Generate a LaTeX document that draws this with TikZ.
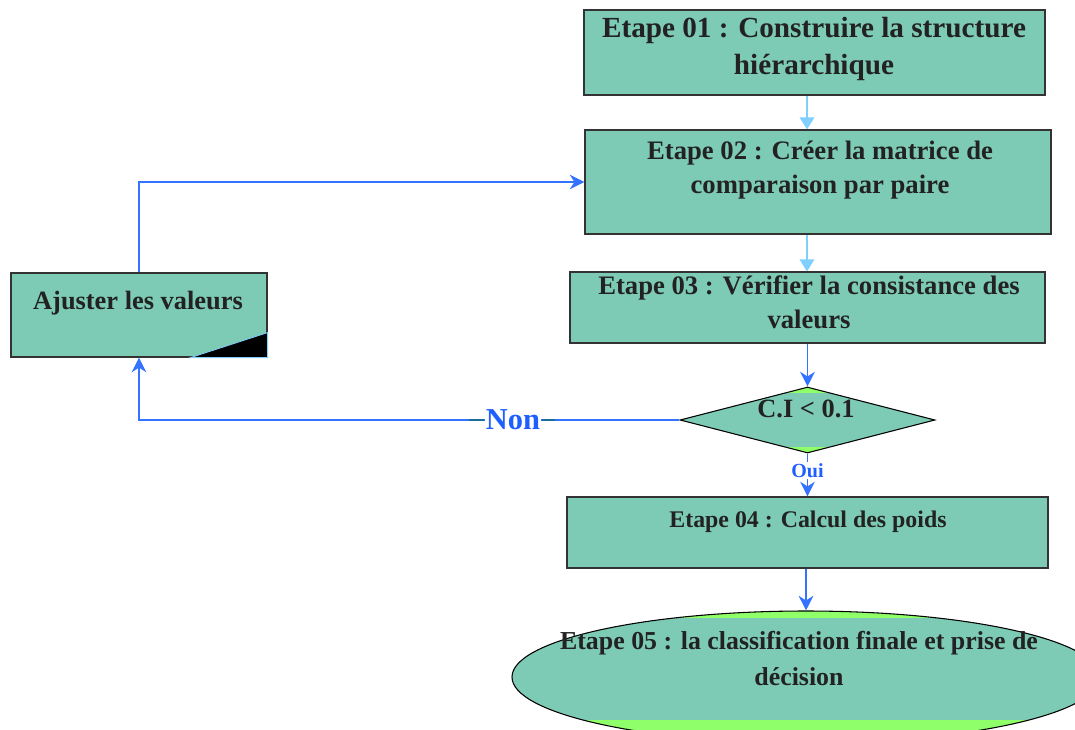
\documentclass[tikz,border=0pt]{standalone}
\usepackage{fontspec}
\setmainfont{Liberation Serif}
\usetikzlibrary{arrows.meta,shapes.geometric,calc}
\definecolor{tealfill}{HTML}{7DCBB4}
\definecolor{limefill}{HTML}{8FFF6A}
\definecolor{lblue}{HTML}{80CFFF}
\definecolor{blueline}{HTML}{3373FF}
\definecolor{txt}{HTML}{222222}
\definecolor{nonblue}{HTML}{1F5FFF}
\definecolor{dashc}{HTML}{1A6E9E}
\definecolor{border}{HTML}{333333}
\begin{document}
\begin{tikzpicture}[x=0.75pt,y=-0.75pt,
  box/.style={draw=border, line width=0.9pt, fill=tealfill, rectangle, inner sep=0pt},
  txtn/.style={text=txt, align=center, inner sep=0pt},
  band/.style 2 args={path picture={
      \fill[limefill] (path picture bounding box.south west) rectangle (path picture bounding box.north east);
      \fill[tealfill] ([yshift=-#1]path picture bounding box.north west) rectangle ([yshift=#2]path picture bounding box.south east);}},
  lightarrow/.style={draw=lblue, line width=1pt, -{Triangle[length=9pt,width=11pt]}},
  bluearrow/.style={draw=blueline, line width=1pt, -{Stealth[length=11pt,width=11pt,inset=3.5pt]}},
]
\clip (0,0) rectangle (1075,729);
\fill[white] (0,0) rectangle (1075,729);
\coordinate (ax) at (807,0);

% boxes
\node[box, minimum width=345.75pt, minimum height=63.75pt] (b1) at (814.5,52.5) {};
\node[box, minimum width=349.5pt, minimum height=78pt] (b2) at (818,182) {};
\node[box, minimum width=356.25pt, minimum height=53.25pt] (b3) at (807.5,307.5) {};
\node[draw=black, line width=0.8pt, diamond, inner sep=0pt, minimum width=191.25pt, minimum height=49.5pt, band={4.5pt}{4.5pt}] (d) at (807.5,420) {};
\node[box, minimum width=360.75pt, minimum height=53.25pt] (b4) at (807.5,532.5) {};
\node[draw=black, line width=0.8pt, ellipse, inner sep=0pt, minimum width=441pt, minimum height=99pt, band={5.25pt}{17.25pt}] (e5) at (806,677) {};
\node[box, minimum width=192pt, minimum height=63pt] (aj) at (139,315) {};
\fill[black, draw=lblue, line width=0.6pt] ([xshift=-57.75pt]aj.south east) -- (aj.south east) -- ([yshift=18.75pt]aj.south east) -- cycle;

% texts
\node[txtn, font=\bfseries\fontsize{21.9}{27.75}\selectfont] (t1) at (814,49) {Etape 01 : Construire la structure\\hiérarchique};
\node[txtn, font=\bfseries\fontsize{20}{25.5}\selectfont] (t2) at (820,170) {Etape 02 : Créer la matrice de\\comparaison par paire};
\node[txtn, font=\bfseries\fontsize{20}{25.5}\selectfont] (t3) at (809,302) {Etape 03 : Vérifier la consistance des\\valeurs};
\node[txtn, font=\bfseries\fontsize{19.8}{24}\selectfont] (td) at (806,409) {C.I < 0.1};
\node[txtn, font=\bfseries\fontsize{17.9}{22}\selectfont] (t4) at (808,522) {Etape 04 : Calcul des poids};
\node[txtn, font=\bfseries\fontsize{19.4}{27}\selectfont] (t5) at (799,659) {Etape 05 : la classification finale et prise de\\décision};
\node[txtn, font=\bfseries\fontsize{19.8}{24}\selectfont] (taj) at (138,303) {Ajuster les valeurs};

% connectors
\draw[lightarrow] (b1.south -| ax) -- (b2.north -| ax);
\draw[lightarrow] (b2.south -| ax) -- (b3.north -| ax);
\draw[bluearrow] (d.north |- b3.south) -- (d.north);
\draw[bluearrow] (d.south) -- node[pos=0.39, fill=white, inner sep=1pt, text=nonblue, font=\bfseries\fontsize{15}{18}\selectfont] (oui) {Oui} (b4.north -| d.south);
\draw[bluearrow] (b4.south -| e5.north) -- (e5.north);
\draw[bluearrow] (aj.north) |- (b2.west);
\draw[bluearrow] (d.west) -| node[pos=0.154, fill=white, inner sep=1pt, text=nonblue, font=\bfseries\fontsize{22.8}{26}\selectfont] (non) {Non} (aj.south);
\draw[dashc, line width=2.2pt] ([xshift=-11pt]non.west) -- (non.west);
\draw[dashc, line width=2.2pt] (non.east) -- ([xshift=10pt]non.east);
\end{tikzpicture}
\end{document}
